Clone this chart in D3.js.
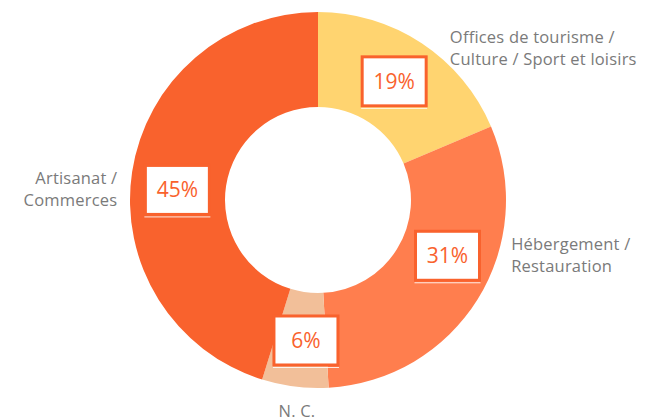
<!DOCTYPE html>
<meta charset="utf-8">
<style>
body { margin: 0; background: #fff; }
svg { display: block; }
.cat { fill: #7a7a7a; font-family: "Open Sans", sans-serif; font-size: 16.5px; letter-spacing: 0.2px; }
.pct { fill: #f9622d; font-family: "Open Sans", sans-serif; font-size: 21px; }
</style>
<body>
<div id="chart"></div>
<script src="https://cdn.jsdelivr.net/npm/d3@7"></script>
<script>
// categories, clockwise from 12 o'clock
var categories = ["Offices de tourisme / Culture / Sport et loisirs", "Hébergement / Restauration", "N. C.", "Artisanat / Commerces"];
var labelLines = [["Offices de tourisme /", "Culture / Sport et loisirs"], ["Hébergement /", "Restauration"], ["N. C."], ["Artisanat /", "Commerces"]];
var shares = [18.6, 30.5, 5.7, 45.2];
var colors = ["#ffd470", "#ff7e4e", "#f2bf99", "#f9622d"];

// label placement (degrees, clockwise from top) - the original nudges these off the mid angle
var boxAngle = [32.7, 113.3, 184.9, 274.1];
var nameAngle = [41, 106, 186, 273];

var width = 654, height = 418,
    cx = 318, cy = 200,
    outerR = 188, innerR = 93;

var svg = d3.select("#chart").append("svg")
    .attr("width", width)
    .attr("height", height);

var g = svg.append("g").attr("transform", "translate(" + cx + "," + cy + ")");

var pie = d3.pie().sort(null).value(function(d) { return d; });
var arc = d3.arc().innerRadius(innerR).outerRadius(outerR);
var arcs = pie(shares);

g.selectAll("path.slice")
    .data(arcs)
    .enter().append("path")
    .attr("class", "slice")
    .attr("d", arc)
    .attr("fill", function(d, i) { return colors[i]; });

function polar(r, deg) {
    var a = deg * Math.PI / 180;
    return [r * Math.sin(a), -r * Math.cos(a)];
}

// percentage boxes
var boxW = 64, boxH = 49;
var boxes = g.selectAll("g.box")
    .data(arcs)
    .enter().append("g")
    .attr("class", "box")
    .attr("transform", function(d, i) {
        var p = polar(141, boxAngle[i]);
        return "translate(" + p[0] + "," + p[1] + ")";
    });

boxes.append("rect")
    .attr("x", -boxW / 2).attr("y", -boxH / 2)
    .attr("width", boxW).attr("height", boxH)
    .attr("fill", "#fff")
    .attr("stroke", "#f9622d")
    .attr("stroke-width", 3);

// faint light edge under each box
boxes.append("line")
    .attr("x1", -boxW / 2 - 1).attr("x2", boxW / 2 + 1)
    .attr("y1", boxH / 2 + 2.5).attr("y2", boxH / 2 + 2.5)
    .attr("stroke", "#fff")
    .attr("stroke-opacity", 0.85)
    .attr("stroke-width", 1);

boxes.append("text")
    .attr("class", "pct")
    .attr("text-anchor", "middle")
    .attr("dy", "0.36em")
    .text(function(d) { return Math.round(d.data) + "%"; });

// category names, nearest corner of the text block sits on a ring just outside the donut
var lineH = 22;
var names = g.selectAll("text.cat")
    .data(categories)
    .enter().append("text")
    .attr("class", "cat")
    .each(function(d, i) {
        var p = polar(201, nameAngle[i]);
        var s = Math.sin(nameAngle[i] * Math.PI / 180);
        var lines = labelLines[i];
        var anchor = s > 0.3 ? "start" : (s < -0.3 ? "end" : "middle");
        var top = anchor === "middle" ? p[1] : p[1] - lines.length * lineH / 2;
        var t = d3.select(this).attr("text-anchor", anchor);
        lines.forEach(function(line, k) {
            t.append("tspan")
                .attr("x", p[0])
                .attr("y", top + lineH * k + lineH / 2)
                .attr("dy", "0.35em")
                .text(line);
        });
    });
</script>
</body>
